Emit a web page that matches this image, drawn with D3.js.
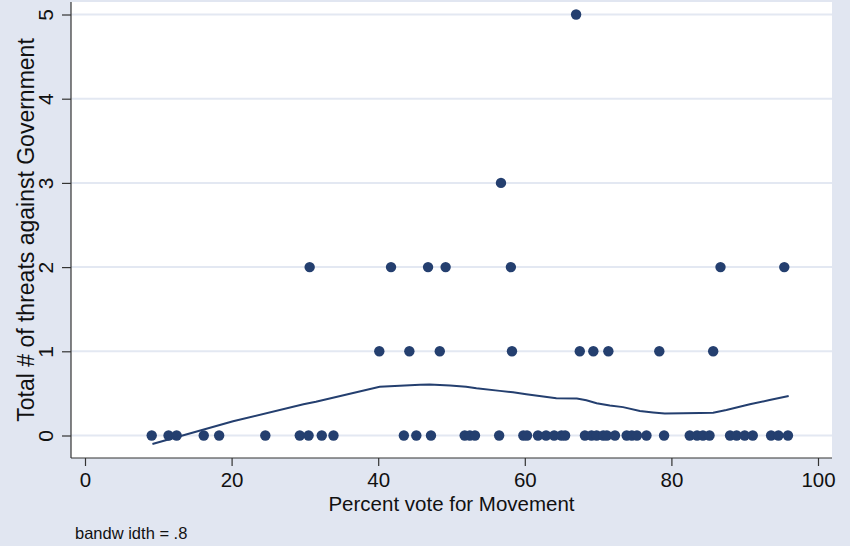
<!DOCTYPE html>
<html>
<head>
<meta charset="utf-8">
<script src="https://cdn.jsdelivr.net/npm/d3@7"></script>
<style>
  body { margin: 0; background: #e1e6f1; }
  svg { display: block; font-family: "Liberation Sans", Arial, sans-serif; }
</style>
</head>
<body>
<svg id="chart"></svg>
<script>
// vote share (x) and number of threats (y) for each observation
const voteShare = [
  9.1, 11.4, 12.5, 16.2, 18.3, 24.6, 29.3, 30.5, 32.3, 33.9, 43.5, 45.2, 47.2,
  51.8, 52.5, 53.2, 56.5, 59.8, 60.3, 61.8, 62.9, 64.0, 65.0, 65.5, 68.2, 69.1,
  69.8, 70.7, 71.2, 72.3, 73.9, 74.6, 75.3, 76.6, 79.0, 82.5, 83.5, 84.3, 85.2,
  88.0, 88.9, 90.0, 91.1, 93.6, 94.6, 95.9,
  40.15, 44.25, 48.4, 58.25, 67.5, 69.35, 71.4, 78.35, 85.7,
  30.65, 41.75, 46.8, 49.2, 58.1, 86.7, 95.4,
  56.75,
  67.0
];
const threats = [
  0, 0, 0, 0, 0, 0, 0, 0, 0, 0, 0, 0, 0,
  0, 0, 0, 0, 0, 0, 0, 0, 0, 0, 0, 0, 0,
  0, 0, 0, 0, 0, 0, 0, 0, 0, 0, 0, 0, 0,
  0, 0, 0, 0, 0, 0, 0,
  1, 1, 1, 1, 1, 1, 1, 1, 1,
  2, 2, 2, 2, 2, 2, 2,
  3,
  5
];

// lowess smooth
const lowessX = [9.2, 20.2, 29.8, 31.5, 40.2, 45.7, 47.0, 49.8, 52.0, 53.4, 56.6,
  58.4, 60.2, 64.3, 67.1, 68.4, 69.8, 71.6, 73.4, 75.7, 77.5, 79.1, 81.6, 83.9,
  85.7, 87.5, 90.7, 93.4, 96.0];
const lowessY = [-0.10, 0.17, 0.37, 0.40, 0.58, 0.603, 0.606, 0.594, 0.58, 0.56, 0.53,
  0.513, 0.49, 0.442, 0.438, 0.419, 0.383, 0.356, 0.337, 0.29, 0.273, 0.261, 0.265, 0.267,
  0.27, 0.302, 0.37, 0.421, 0.47];

const xTicks = [0, 20, 40, 60, 80, 100];
const yTicks = [0, 1, 2, 3, 4, 5];

var width = 850, height = 546;
var plot = { left: 71, right: 832, top: 2, bottom: 458 };

const svg = d3.select("#chart")
  .attr("width", width)
  .attr("height", height);

svg.append("rect")
  .attr("width", width).attr("height", height)
  .attr("fill", "#e1e6f1");

svg.append("rect")
  .attr("x", plot.left).attr("y", plot.top)
  .attr("width", plot.right - plot.left)
  .attr("height", plot.bottom - plot.top)
  .attr("fill", "#ffffff");

var x = d3.scaleLinear().domain([0, 100]).range([85, 818]);
var y = d3.scaleLinear().domain([0, 5]).range([435.5, 14.5]);

// gridlines
svg.append("g")
  .selectAll("line")
  .data(yTicks)
  .join("line")
    .attr("x1", plot.left).attr("x2", plot.right)
    .attr("y1", d => y(d)).attr("y2", d => y(d))
    .attr("stroke", "#e3e8f2")
    .attr("stroke-width", 2);

// y axis, labels turned like Stata does
const yAxis = svg.append("g")
  .attr("transform", `translate(${plot.left},0)`)
  .call(d3.axisLeft(y).tickValues(yTicks).tickSize(9).tickFormat(d3.format("d")));
yAxis.select(".domain")
  .attr("d", `M0,${plot.top}V${plot.bottom}`);
yAxis.selectAll(".tick text")
  .attr("font-size", 21)
  .attr("fill", "#111")
  .attr("text-anchor", "middle")
  .attr("x", 0).attr("y", -18).attr("dy", "0")
  .attr("transform", "rotate(-90)");

// x axis
const xAxis = svg.append("g")
  .attr("transform", `translate(0,${plot.bottom})`)
  .call(d3.axisBottom(x).tickValues(xTicks).tickSize(8).tickPadding(6).tickFormat(d3.format("d")));
xAxis.select(".domain")
  .attr("d", `M${plot.left},0H${plot.right}`);
xAxis.selectAll(".tick text")
  .attr("font-size", 20.5)
  .attr("fill", "#111");

svg.selectAll(".domain, .tick line")
  .attr("stroke", "#333")
  .attr("stroke-width", 1.2);

// titles
svg.append("text")
  .attr("x", (plot.left + plot.right) / 2)
  .attr("y", 511)
  .attr("text-anchor", "middle")
  .attr("font-size", 20.5)
  .attr("fill", "#111")
  .text("Percent vote for Movement");

svg.append("text")
  .attr("transform", `translate(34,${(plot.top + plot.bottom) / 2}) rotate(-90)`)
  .attr("text-anchor", "middle")
  .attr("font-size", 23)
  .attr("fill", "#111")
  .text("Total # of threats against Government");

svg.append("text")
  .attr("x", 75)
  .attr("y", 539)
  .attr("font-size", 16.5)
  .attr("fill", "#111")
  .text("bandw idth = .8");

// points
svg.append("g")
  .selectAll("circle")
  .data(voteShare.map((v, i) => [v, threats[i]]))
  .join("circle")
    .attr("cx", d => x(d[0]))
    .attr("cy", d => y(d[1]))
    .attr("r", 5.2)
    .attr("fill", "#243f6f");

// lowess line
var line = d3.line()
  .x(d => x(d[0]))
  .y(d => y(d[1]));

svg.append("path")
  .datum(lowessX.map((v, i) => [v, lowessY[i]]))
  .attr("d", line)
  .attr("fill", "none")
  .attr("stroke", "#243f6f")
  .attr("stroke-width", 2);
</script>
</body>
</html>
